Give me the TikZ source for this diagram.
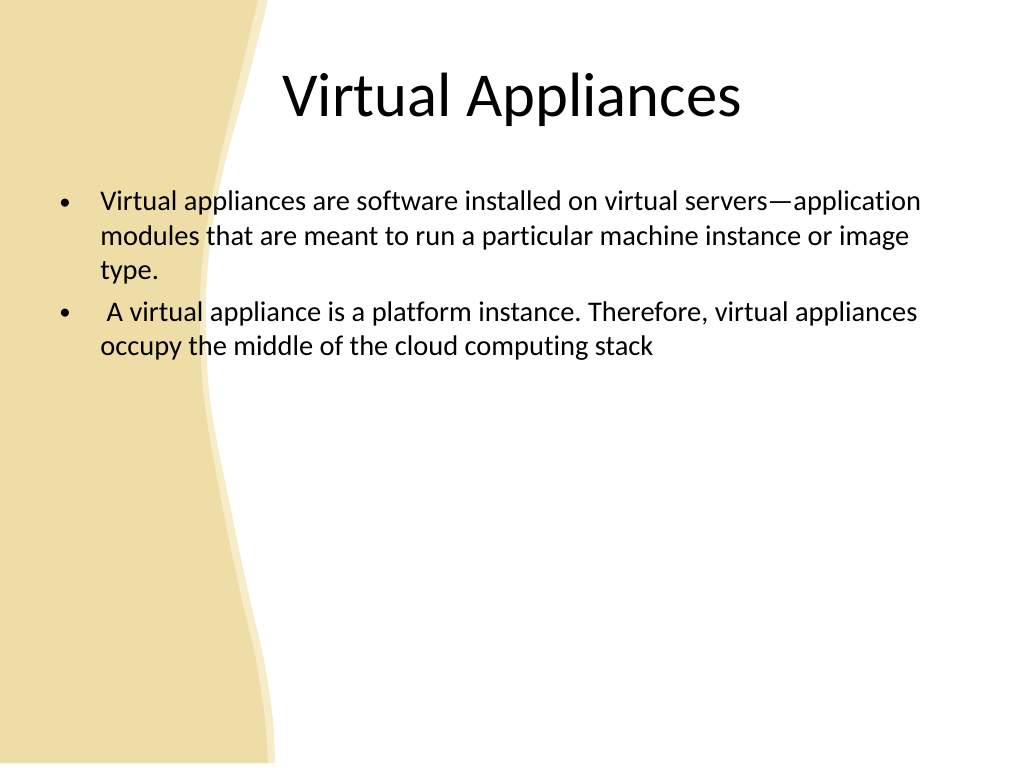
\documentclass[tikz,border=0pt]{standalone}
\usepackage{fontspec}
\setmainfont[Ligatures={NoCommon}]{Carlito}
\usepackage{tikz}
\definecolor{bandtan}{HTML}{EFDDA7}
\definecolor{bandlight}{HTML}{F6ECCA}
\tikzset{
  every title/.style={anchor=base,font=\fontsize{44}{52}\selectfont},
  every bullet/.style={anchor=base,font=\fontsize{16}{20}\selectfont},
  every item/.style={anchor=base west,inner sep=0pt,font=\fontsize{20}{24}\selectfont},
}
\frenchspacing

\begin{document}
\begin{tikzpicture}[x=0.703125pt,y=-0.703125pt]
\useasboundingbox (0,0) rectangle (1024,768);
\fill[white] (0,0) rectangle (1024,768);
\fill[bandlight] (0,0) -- plot[smooth] coordinates {(268,0) (247,83) (224,167) (212,230) (206,300) (210,400) (233,520) (250,600) (264,660) (273,720) (275,763)} -- (0,763) -- cycle;
\fill[bandtan] (0,0) -- plot[smooth] coordinates {(258,0) (238,83) (218,167) (206,230) (200,300) (204,400) (225,520) (242,600) (256,660) (265,720) (268,763)} -- (0,763) -- cycle;
\node[every title] (title) at (512,117) {Virtual Appliances};
% first bullet
\node[every bullet] (dot1) at (65,210) {•};
\node[every item] (item1a) at (100,211) {Virtual appliances are software installed on virtual servers—application};
\node[every item] (item1b) at (100,245.5) {modules that are meant to run a particular machine instance or image};
\node[every item] (item1c) at (100,280) {type.};
% second bullet
\node[every bullet] (dot2) at (65,320) {•};
\node[every item] (item2a) at (100,321) {\ A virtual appliance is a platform instance. Therefore, virtual appliances};
\node[every item] (item2b) at (100,355.5) {occupy the middle of the cloud computing stack};
\end{tikzpicture}
\end{document}
